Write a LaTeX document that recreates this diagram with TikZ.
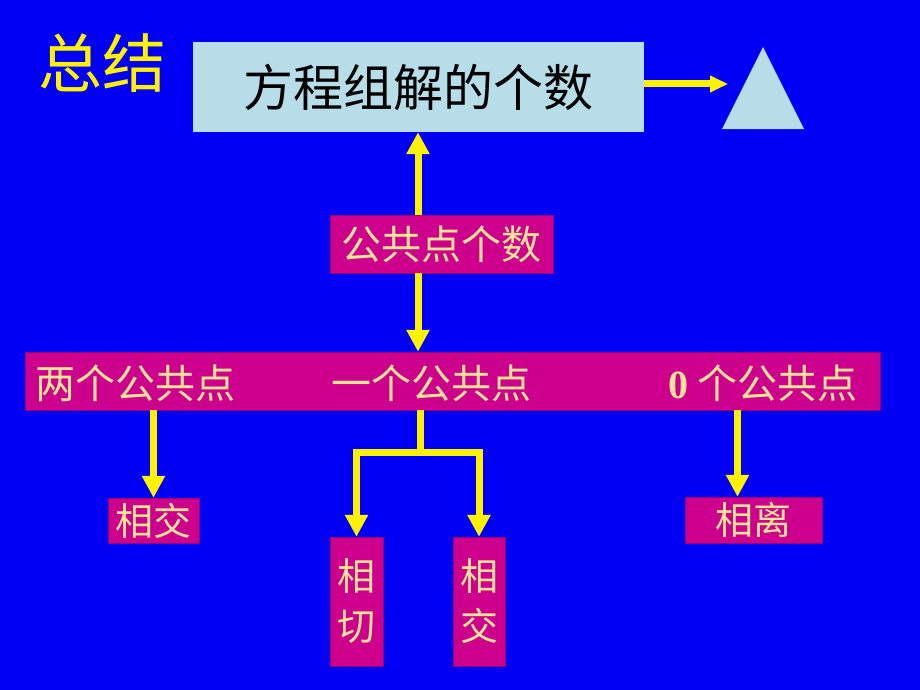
\documentclass[tikz,border=0pt]{standalone}
\usepackage{fontspec}
\newfontfamily\cjk{Noto Sans CJK SC}
\newfontfamily\numfont{Liberation Serif}
\usetikzlibrary{arrows.meta,positioning}
\definecolor{bgblue}{RGB}{0,0,245}
\definecolor{boxpink}{RGB}{204,0,140}
\definecolor{paleyel}{RGB}{255,228,150}
\definecolor{lightcyan}{RGB}{183,221,232}
\tikzset{font=\cjk}
\tikzstyle{pinkbox}=[fill=boxpink,draw=boxpink!75!black,inner sep=0pt,text=paleyel,font=\cjk\fontsize{38}{50}\selectfont]
\tikzstyle{bandtxt}=[text=paleyel,inner sep=0pt,font=\cjk\fontsize{40}{48}\selectfont]
\tikzstyle{yarrow}=[draw=yellow,line width=7pt,-{Triangle[width=22pt,length=22pt]}]

\begin{document}
\begin{tikzpicture}[x=1pt,y=-1pt]
\fill[bgblue] (0,0) rectangle (920,690);
\node[text=yellow,inner sep=0pt,font=\cjk\fontsize{64}{72}\selectfont] (title) at (102,63) {总结};
\node[fill=lightcyan,inner sep=0pt,minimum width=451pt,minimum height=90pt,font=\cjk\fontsize{50}{60}\selectfont] (top) at (418,87) {\raisebox{-4pt}{方程组解的个数}};
\fill[lightcyan] (722,129) -- (763,47) -- (804,129) -- cycle;
\coordinate (tri) at (728,84);
\node[pinkbox,minimum width=223pt,minimum height=58pt,font=\cjk\fontsize{40}{48}\selectfont] (gong) at (441.5,244) {公共点个数};
\node[pinkbox,minimum width=855pt,minimum height=58pt] (band) at (452.5,381) {};
\node[bandtxt] (two) at (135,383) {两个公共点};
\node[bandtxt] (one) at (431,383) {一个公共点};
\node[bandtxt] (zero) at (763,383) {{\numfont\bfseries 0} 个公共点};
\node[pinkbox,minimum width=91pt,minimum height=45pt] (jiao1) at (153.5,520.5) {相交};
\node[pinkbox,minimum width=53pt,minimum height=129pt,align=center] (qie) at (356.5,601.5) {相\\切};
\node[pinkbox,minimum width=52pt,minimum height=129pt,align=center] (jiao2) at (479,601.5) {相\\交};
\node[pinkbox,minimum width=137pt,minimum height=46pt] (li) at (753.5,520) {相离};
\coordinate (mid) at (420,452);
% connectors
\draw[yarrow,-{Triangle[width=16pt,length=18pt]}] (top.east |- tri) -- (tri);
\draw[yarrow] (gong.north -| top.south) -- (top.south);
\draw[yarrow] (gong.south -| top.south) -- (band.north -| top.south);
\draw[yarrow] (band.south -| jiao1.north) -- (jiao1.north);
\draw[yarrow] ([xshift=-16pt]band.south -| li.north) -- ([xshift=-16pt]li.north);
\draw[draw=yellow,line width=7pt] (band.south -| mid) -- (mid);
\draw[yarrow,{Triangle[width=22pt,length=22pt]}-{Triangle[width=22pt,length=22pt]}] (qie.north) |- (mid) -| (jiao2.north);
\end{tikzpicture}
\end{document}
